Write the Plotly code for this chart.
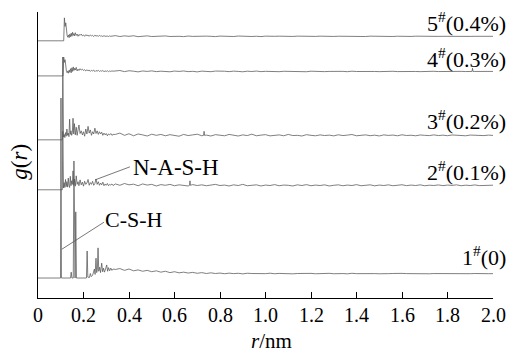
import plotly.graph_objects as go

# ---------------- data ----------------
TICK_VALS = [0, 0.2, 0.4, 0.6, 0.8, 1.0, 1.2, 1.4, 1.6, 1.8, 2.0]
TICK_TEXT = ["0", "0.2", "0.4", "0.6", "0.8", "1.0", "1.2", "1.4", "1.6", "1.8", "2.0"]

SERIES_LABELS = ["1<sup>#</sup>(0)", "2<sup>#</sup>(0.1%)", "3<sup>#</sup>(0.2%)",
                 "4<sup>#</sup>(0.3%)", "5<sup>#</sup>(0.4%)"]

# far-range r grid (nm)
R_FAR = [0.34, 0.36, 0.38, 0.40, 0.42, 0.44, 0.46, 0.48, 0.50, 0.52, 0.54, 0.56,
         0.58, 0.60, 0.62, 0.64, 0.66, 0.68, 0.70, 0.72, 0.74, 0.76, 0.78, 0.80,
         0.82, 0.84, 0.86, 0.88, 0.90, 0.92, 0.94, 0.96, 0.98, 1.00, 1.02, 1.04,
         1.06, 1.08, 1.10, 1.12, 1.14, 1.16, 1.18, 1.20, 1.22, 1.24, 1.26, 1.28,
         1.30, 1.32, 1.34, 1.36, 1.38, 1.40, 1.42, 1.44, 1.46, 1.48, 1.50, 1.52,
         1.54, 1.56, 1.58, 1.60, 1.62, 1.64, 1.66, 1.68, 1.70, 1.72, 1.74, 1.76,
         1.78, 1.80, 1.82, 1.84, 1.86, 1.88, 1.90, 1.92, 1.94, 1.96, 1.98, 2.00]

# 1# (0) near range
R1_NEAR = [0, 0.099, 0.101, 0.103, 0.143, 0.146, 0.149, 0.155, 0.158, 0.161,
           0.163, 0.166, 0.169, 0.213, 0.216, 0.219, 0.226, 0.230, 0.234, 0.240,
           0.244, 0.248, 0.251, 0.255, 0.258, 0.261, 0.264, 0.267, 0.271, 0.275,
           0.280, 0.284, 0.288, 0.292, 0.297, 0.302, 0.306, 0.310, 0.315, 0.320,
           0.325, 0.330]
G1_NEAR = [0, 0, 40, 0, 0, 1.3, 0, 0, 26, 0,
           0, 14.7, 0, 0, 6.0, 0.2, 0.1, 1.0, 0.3, 0.6,
           1.2, 2.0, 0.8, 4.4, 1.2, 2.0, 6.7, 1.5, 2.4, 1.2,
           3.3, 1.4, 2.2, 1.3, 2.0, 2.9, 1.5, 2.3, 1.6, 2.2,
           1.7, 2.0]
G1_FAR = [1.9, 2.1, 1.7, 2.0, 1.6, 1.8, 1.5, 1.7, 1.4, 1.6, 1.3, 1.5,
          1.2, 1.4, 1.15, 1.3, 1.1, 1.25, 1.05, 1.2, 1.0, 1.15, 1.0, 1.1,
          0.95, 1.08, 0.98, 1.05, 0.92, 1.06, 1.0, 0.94, 1.04, 0.97, 1.07, 0.95,
          1.02, 0.96, 1.05, 0.93, 1.0, 1.06, 0.97, 1.03, 0.94, 1.01, 0.98, 1.04,
          0.95, 1.02, 0.99, 0.93, 1.05, 0.97, 1.0, 0.95, 1.03, 0.98, 0.94, 1.02,
          0.97, 1.01, 0.94, 1.03, 0.98, 0.95, 1.0, 0.96, 1.02, 0.94, 0.99, 0.97,
          1.01, 0.95, 0.98, 1.02, 0.94, 0.99, 0.96, 1.0, 0.95, 0.98, 0.96, 0.97]

# 2# and 3# near range
R23_NEAR = [0, 0.107, 0.109, 0.112, 0.115, 0.118, 0.121, 0.124, 0.127, 0.130,
            0.133, 0.136, 0.139, 0.142, 0.145, 0.148, 0.151, 0.154, 0.157, 0.160,
            0.164, 0.168, 0.172, 0.176, 0.180, 0.185, 0.190, 0.195, 0.200, 0.205,
            0.210, 0.215, 0.220, 0.225, 0.230, 0.235, 0.240, 0.245, 0.250, 0.255,
            0.260, 0.265, 0.270, 0.275, 0.280, 0.285, 0.290, 0.295, 0.300, 0.305,
            0.310, 0.315, 0.320, 0.325, 0.330]
G2_NEAR = [0, 0, 13, 0.4, 1.6, 0.5, 2.3, 0.7, 1.8, 0.6,
           2.6, 1.0, 0.5, 3.0, 0.9, 2.0, 1.2, 4.2, 1.0, 2.4,
           0.8, 3.1, 1.2, 1.8, 0.9, 2.2, 1.1, 1.7, 0.8, 1.9,
           1.2, 1.5, 2.3, 1.0, 1.6, 1.2, 1.9, 1.0, 1.4, 2.4,
           1.2, 1.8, 1.0, 1.5, 1.1, 1.7, 0.9, 1.3, 1.0, 1.4,
           0.9, 1.2, 1.05, 1.3, 0.95]
G2_FAR = [1.3, 1.0, 1.4, 1.1, 1.25, 0.9, 1.3, 1.05, 1.2, 0.85, 1.15, 1.0,
          1.2, 0.9, 1.1, 1.0, 0.85, 1.15, 0.95, 1.1, 0.9, 1.05, 1.2, 0.95,
          1.05, 0.85, 1.1, 0.95, 1.2, 0.9, 1.0, 1.1, 0.85, 1.05, 0.95, 1.15,
          0.9, 1.05, 1.0, 0.85, 1.1, 0.95, 1.15, 0.9, 1.05, 0.95, 1.1, 0.85,
          1.0, 1.1, 0.9, 1.05, 0.95, 1.15, 0.9, 1.0, 1.1, 0.88, 1.05, 0.95,
          1.1, 0.9, 1.0, 1.12, 0.92, 1.05, 0.95, 1.1, 0.9, 1.02, 0.96, 1.08,
          0.92, 1.05, 0.98, 1.1, 0.9, 1.03, 0.95, 1.08, 0.93, 1.0, 0.97, 1.02]
R2_SPIKE = [0.666, 0.668, 0.670]
G2_SPIKE = [1.0, 2.0, 1.0]

G3_NEAR = [0, 0, 18.4, 0.6, 1.2, 0.5, 1.6, 0.8, 2.4, 1.0,
           1.5, 0.7, 4.6, 1.2, 2.0, 1.0, 1.6, 4.8, 1.3, 3.6,
           1.1, 2.8, 1.0, 2.2, 3.3, 1.4, 2.0, 1.1, 1.8, 0.8,
           2.4, 1.3, 3.0, 1.5, 2.2, 1.0, 1.8, 1.3, 2.6, 1.4,
           2.0, 1.2, 1.8, 1.3, 1.7, 1.0, 1.5, 1.1, 1.4, 0.9,
           1.3, 1.1, 1.4, 1.0, 1.2]
G3_FAR = [1.2, 1.5, 1.0, 1.35, 0.9, 1.3, 1.1, 0.85, 1.25, 1.0, 1.2, 0.9,
          1.15, 1.0, 0.8, 1.2, 0.95, 1.1, 1.25, 0.9, 1.05, 0.85, 1.15, 1.0,
          0.9, 1.2, 1.0, 0.85, 1.1, 0.95, 1.25, 0.9, 1.05, 1.15, 0.88, 1.0,
          1.1, 0.9, 1.2, 0.95, 1.0, 0.85, 1.15, 1.0, 0.9, 1.1, 0.95, 1.05,
          0.88, 1.12, 0.95, 1.05, 1.18, 0.9, 1.0, 1.1, 0.92, 1.04, 0.86, 1.1,
          0.98, 1.06, 0.9, 1.12, 0.96, 1.02, 0.9, 1.08, 1.0, 0.94, 1.1, 0.95,
          1.04, 0.92, 1.08, 0.97, 1.02, 0.9, 1.06, 0.98, 1.0, 0.94, 1.05, 0.98]
R3_SPIKE = [0.728, 0.730, 0.732]
G3_SPIKE = [1.0, 1.9, 1.0]

# 4# and 5# near range
R45_NEAR = [0, 0.110, 0.113, 0.116, 0.119, 0.122, 0.125, 0.128, 0.131, 0.134,
            0.137, 0.140, 0.143, 0.146, 0.149, 0.152, 0.155, 0.158, 0.161, 0.164,
            0.168, 0.172, 0.176, 0.180, 0.185, 0.190, 0.195, 0.200, 0.205, 0.210,
            0.215, 0.220, 0.225, 0.230, 0.235, 0.240, 0.245, 0.250, 0.255, 0.260,
            0.265, 0.270, 0.275, 0.280, 0.285, 0.290, 0.295, 0.300, 0.305, 0.310,
            0.315, 0.320, 0.325, 0.330]
G4_NEAR = [0, 0, 4.2, 3.0, 3.6, 1.5, 1.0, 0.7, 1.1, 0.6,
           1.3, 0.8, 1.6, 0.7, 1.8, 1.0, 2.0, 1.2, 1.7, 1.3,
           1.9, 1.1, 1.5, 1.2, 1.6, 1.3, 1.5, 1.2, 1.4, 1.1,
           1.35, 1.15, 1.3, 1.0, 1.25, 1.1, 1.3, 0.95, 1.2, 1.05,
           1.25, 1.0, 1.15, 1.05, 1.2, 0.95, 1.1, 1.0, 1.15, 0.95,
           1.1, 1.0, 1.12, 1.05]
G4_FAR = [1.1, 1.2, 0.95, 1.15, 1.05, 0.9, 1.1, 1.0, 1.12, 0.95, 1.05, 1.0,
          0.92, 1.08, 1.0, 1.1, 0.95, 1.02, 0.9, 1.06, 1.0, 0.94, 1.08, 0.98,
          1.04, 0.95, 1.06, 1.0, 0.92, 1.05, 0.98, 1.08, 0.95, 1.02, 0.97, 1.04,
          0.94, 1.03, 1.0, 1.06, 0.96, 1.02, 0.93, 1.05, 0.99, 1.03, 0.95, 1.0,
          1.04, 0.97, 1.01, 0.94, 1.05, 0.98, 1.02, 0.96, 1.04, 0.99, 0.95, 1.02,
          0.98, 1.03, 0.96, 1.01, 0.97, 1.04, 0.99, 0.95, 1.02, 0.98, 1.03, 0.97,
          1.0, 0.96, 1.03, 0.98, 1.01, 0.97, 1.02, 0.99, 0.96, 1.01, 0.98, 1.0]
R4_SPIKE = [1.908, 1.910, 1.912]
G4_SPIKE = [1.0, 1.7, 1.0]

G5_NEAR = [0, 0, 0, 5.1, 3.2, 4.0, 1.8, 1.2, 0.8, 1.3,
           0.7, 1.5, 0.9, 1.7, 1.0, 1.9, 1.2, 1.6, 1.1, 1.8,
           1.2, 1.5, 1.0, 1.4, 1.2, 1.5, 1.1, 1.3, 1.0, 1.35,
           1.15, 1.25, 1.0, 1.3, 1.1, 1.2, 0.95, 1.25, 1.05, 1.15,
           1.0, 1.2, 1.05, 1.1, 0.95, 1.15, 1.0, 1.1, 1.05, 0.95,
           1.1, 1.0, 1.08, 1.12]
G5_FAR = [1.15, 0.95, 1.1, 1.0, 1.12, 0.92, 1.05, 1.1, 0.95, 1.04, 0.98, 1.08,
          0.96, 1.05, 1.0, 0.93, 1.06, 0.98, 1.03, 0.95, 1.04, 1.0, 0.94, 1.05,
          0.98, 1.02, 0.95, 1.06, 0.99, 1.03, 0.96, 1.01, 0.94, 1.04, 0.98, 1.0,
          1.03, 0.96, 1.01, 0.97, 1.04, 0.99, 0.95, 1.02, 0.98, 1.03, 0.96, 1.0,
          0.97, 1.02, 0.99, 1.04, 0.96, 1.01, 0.98, 0.95, 1.03, 1.0, 0.97, 1.02,
          0.99, 0.96, 1.02, 0.98, 1.01, 0.97, 1.03, 0.99, 0.96, 1.0, 1.02, 0.98,
          1.0, 0.97, 1.01, 0.99, 0.96, 1.02, 0.98, 1.0, 0.97, 1.01, 0.99, 1.0]

# ---------------- layout constants ----------------
OFFSETS = [0, 19.6, 30.7, 44.9, 52.7]      # vertical stacking of curves
LABEL_Y = [4.9, 23.8, 35.1, 48.9, 56.9]    # right-hand label heights
SERIF = "Liberation Serif"
LINE_COLOR = "#555555"


def build(near_r, near_g, far_g, spike_r=(), spike_g=()):
    pts = list(zip(near_r, near_g)) + list(zip(R_FAR, far_g)) + list(zip(spike_r, spike_g))
    pts.sort(key=lambda p: p[0])
    return [p[0] for p in pts], [p[1] for p in pts]


series = [
    build(R1_NEAR, G1_NEAR, G1_FAR),
    build(R23_NEAR, G2_NEAR, G2_FAR, R2_SPIKE, G2_SPIKE),
    build(R23_NEAR, G3_NEAR, G3_FAR, R3_SPIKE, G3_SPIKE),
    build(R45_NEAR, G4_NEAR, G4_FAR, R4_SPIKE, G4_SPIKE),
    build(R45_NEAR, G5_NEAR, G5_FAR),
]

fig = go.Figure()
for (r, g), off in zip(series, OFFSETS):
    fig.add_trace(go.Scatter(x=r, y=[v + off for v in g], mode="lines",
                             line=dict(color=LINE_COLOR, width=0.75),
                             showlegend=False, hoverinfo="skip"))

annotations = []
for lab, ly in zip(SERIES_LABELS, LABEL_Y):
    annotations.append(dict(x=1.033, xref="paper", y=ly, yref="y", text=lab,
                            showarrow=False, xanchor="right", yanchor="middle",
                            font=dict(family=SERIF, size=22, color="black")))

for tv, tt in zip(TICK_VALS, TICK_TEXT):
    annotations.append(dict(x=tv, xref="x", y=-0.06, yref="paper", text=tt,
                            showarrow=False, xanchor="center", yanchor="middle",
                            font=dict(family=SERIF, size=20, color="black")))

annotations += [
    dict(x=0.607, y=24.6, xref="x", yref="y", text="N-A-S-H", showarrow=False,
         xanchor="center", yanchor="middle", font=dict(family=SERIF, size=23, color="black")),
    dict(x=0.422, y=13.1, xref="x", yref="y", text="C-S-H", showarrow=False,
         xanchor="center", yanchor="middle", font=dict(family=SERIF, size=22, color="black")),
    dict(x=0.514, y=-0.15, xref="paper", yref="paper", text="<i>r</i>/nm", showarrow=False,
         xanchor="center", yanchor="middle", font=dict(family=SERIF, size=21, color="black")),
    dict(x=-0.04, y=0.476, xref="paper", yref="paper", text="<i>g</i>(<i>r</i>)", showarrow=False,
         textangle=-90, xanchor="center", yanchor="middle",
         font=dict(family=SERIF, size=23, color="black")),
]

shapes = [
    dict(type="line", xref="x", yref="y", x0=0.251, y0=21.8, x1=0.404, y1=24.7,
         line=dict(color="#555555", width=0.8)),
    dict(type="line", xref="x", yref="y", x0=0.105, y0=6.4, x1=0.290, y1=12.4,
         line=dict(color="#555555", width=0.8)),
]

fig.update_layout(
    width=514, height=354,
    margin=dict(l=38, r=21, t=12, b=56),
    paper_bgcolor="white", plot_bgcolor="white",
    font=dict(family=SERIF, color="black"),
    annotations=annotations, shapes=shapes,
    xaxis=dict(range=[0, 2.0], tickvals=TICK_VALS, showticklabels=False,
               ticks="inside", ticklen=6, tickcolor="black", tickwidth=1,
               showline=True, linecolor="black", linewidth=1,
               showgrid=False, zeroline=False),
    yaxis=dict(range=[-4.44, 59.1], showline=True, linecolor="black", linewidth=1,
               showticklabels=False, ticks="", showgrid=False, zeroline=False),
)

fig.write_html("out.html")
